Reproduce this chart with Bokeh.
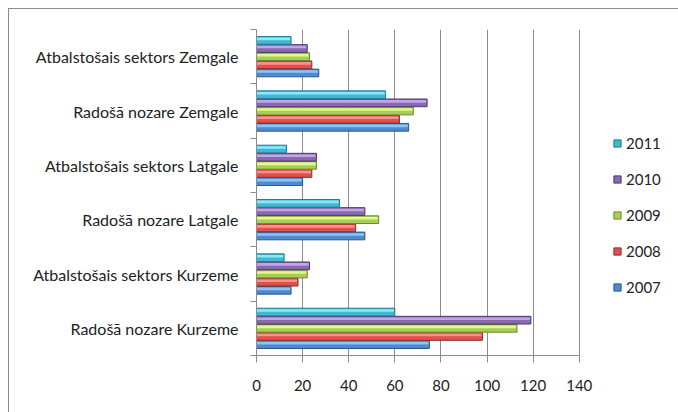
from bokeh.plotting import figure
from bokeh.models import Range1d, FixedTicker, Legend, LegendItem
from bokeh.embed import file_html
from bokeh.resources import INLINE

# ---- data (bottom to top) ----
categories = [
    "Radošā nozare Kurzeme",
    "Atbalstošais sektors Kurzeme",
    "Radošā nozare Latgale",
    "Atbalstošais sektors Latgale",
    "Radošā nozare Zemgale",
    "Atbalstošais sektors Zemgale",
]
years = ["2007", "2008", "2009", "2010", "2011"]
v2007 = [75, 15, 47, 20, 66, 27]
v2008 = [98, 18, 43, 24, 62, 24]
v2009 = [113, 22, 53, 26, 68, 23]
v2010 = [119, 23, 47, 26, 74, 22]
v2011 = [60, 12, 36, 13, 56, 15]
x_ticks = [0, 20, 40, 60, 80, 100, 120, 140]

series = [v2007, v2008, v2009, v2010, v2011]
base_colors = ["#4f8ad0", "#e0504c", "#a8cc5a", "#8a68b0", "#44b6d2"]
light_colors = ["#8cc4f6", "#ff918c", "#e2fa8a", "#c0a6e8", "#8ae8f8"]
edge_colors = ["#2b5890", "#8e2c29", "#6a8a2c", "#4e3870", "#237d94"]
offsets = [-0.3, -0.15, 0.0, 0.15, 0.3]

FONT = "Lato"
GREY = "#8c8c8c"

# frame spans the data area plus the legend area on the right
p = figure(width=662, height=396, output_backend="svg", toolbar_location=None,
           x_range=Range1d(0, 180), y_range=Range1d(0, len(categories)),
           min_border_left=247, min_border_right=0, min_border_top=20,
           min_border_bottom=50)
p.outline_line_color = None
p.background_fill_color = "white"

legend_renderers = []
for i, vals in enumerate(series):
    ys = [c + 0.5 + offsets[i] for c in range(len(categories))]
    p.hbar(y=ys, left=0, right=vals, height=0.142,
           fill_color=base_colors[i], line_color=edge_colors[i], line_width=1)
    p.hbar(y=[y + 0.027 for y in ys], left=0, right=[v - 0.4 for v in vals], height=0.048,
           fill_color=light_colors[i], line_color=None)
    # zero-size markers: only used to draw the small square legend swatch
    r = p.scatter(x=vals, y=ys, marker="square", size=0,
                  fill_color=base_colors[i], line_color=edge_colors[i])
    legend_renderers.append(r)

items = [LegendItem(label=years[i], renderers=[legend_renderers[i]])
         for i in reversed(range(len(years)))]
legend = Legend(items=items, location=(352, 59), orientation="vertical",
                glyph_width=18, glyph_height=18, label_height=18, spacing=18,
                padding=0, margin=0, border_line_color=None,
                background_fill_alpha=0, label_text_font=FONT,
                label_text_font_size="15px", label_text_color="#222222",
                label_standoff=0)
p.add_layout(legend)

# x axis
p.xaxis.ticker = FixedTicker(ticks=x_ticks)
p.xaxis.bounds = (x_ticks[0], x_ticks[-1])
p.xaxis.axis_line_color = GREY
p.xaxis.major_tick_line_color = GREY
p.xaxis.major_tick_out = 7
p.xaxis.major_tick_in = 0
p.xaxis.minor_tick_line_color = None
p.xaxis.major_label_standoff = 17
p.xaxis.major_label_text_font = FONT
p.xaxis.major_label_text_font_size = "15px"
p.xaxis.major_label_text_color = "#222222"

# y axis
p.yaxis.ticker = FixedTicker(ticks=[i + 0.5 for i in range(len(categories))],
                             minor_ticks=list(range(len(categories) + 1)))
p.yaxis.major_label_overrides = {i + 0.5: c for i, c in enumerate(categories)}
p.yaxis.axis_line_color = GREY
p.yaxis.major_tick_line_color = None
p.yaxis.major_tick_out = 0
p.yaxis.major_tick_in = 0
p.yaxis.minor_tick_line_color = GREY
p.yaxis.minor_tick_out = 6
p.yaxis.minor_tick_in = 0
p.yaxis.major_label_standoff = 12
p.yaxis.major_label_text_font = FONT
p.yaxis.major_label_text_font_size = "16px"
p.yaxis.major_label_text_color = "#222222"

# grid
p.xgrid.ticker = FixedTicker(ticks=x_ticks)
p.xgrid.grid_line_color = GREY
p.xgrid.grid_line_width = 1
p.ygrid.grid_line_color = None

html = file_html(p, INLINE)
html = html.replace(
    "</head>",
    "<style>html{overflow:hidden;}html,body{height:auto !important;}"
    "body{margin:8px !important;min-height:420px;width:700px;"
    "border-left:1px solid #8c8c8c;border-top:1px solid #8c8c8c;}</style></head>",
    1)
open("out.html", "w").write(html)
